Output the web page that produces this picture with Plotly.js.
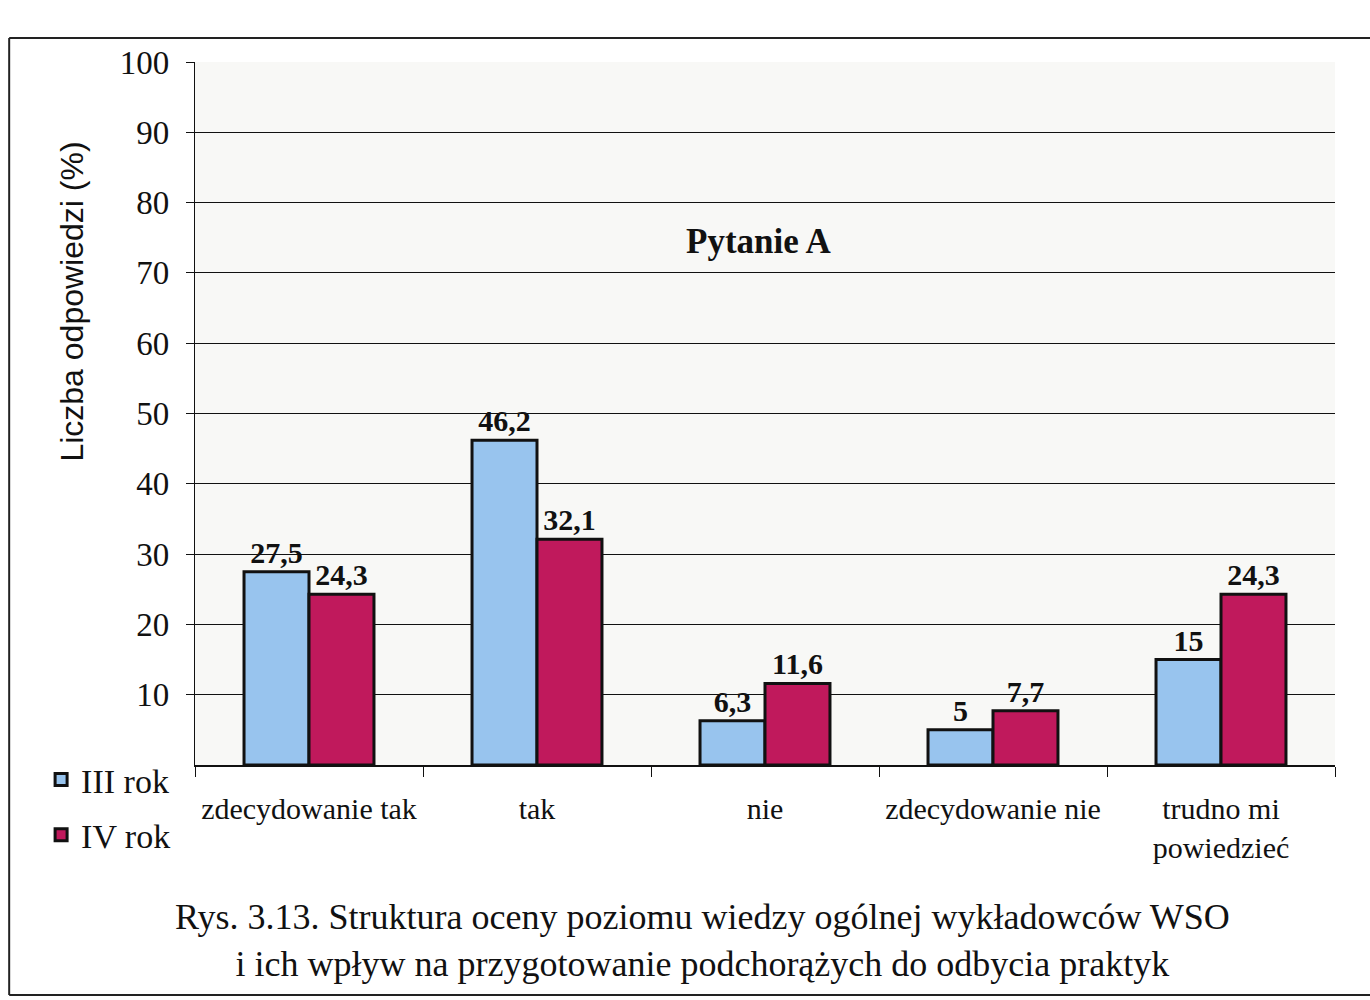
<!DOCTYPE html>
<html>
<head>
<meta charset="utf-8">
<script src="https://cdn.plot.ly/plotly-3.0.1.min.js"></script>
<style>
  body { margin: 0; background: #fff; }
  #chart { width: 1370px; height: 1000px; }
</style>
</head>
<body>
<div id="chart"></div>
<script>
// Pytanie A - ocena wiedzy ogolnej wykladowcow
const categories = ['zdecydowanie tak', 'tak', 'nie', 'zdecydowanie nie', 'trudno mi<br>powiedzieć'];
const rok3 = [27.5, 46.2, 6.3, 5, 15];
const rok4 = [24.3, 32.1, 11.6, 7.7, 24.3];
const seriesNames = ['III rok', 'IV rok'];
const yTicks = [10, 20, 30, 40, 50, 60, 70, 80, 90, 100];

const serif = 'Liberation Serif, Times New Roman, serif';

// comma as decimal mark, like in the original
function plLabel(v) {
    return String(v).replace('.', ',');
}

function barTrace(values, name, color, group) {
    return {
        x: categories,
        y: values,
        type: 'bar',
        name: name,
        legendgroup: group,
        text: values.map(plLabel),
        textposition: 'outside',
        cliponaxis: false,
        textfont: { family: serif, size: 30, color: '#111', weight: 'bold' },
        marker: {
            color: color,
            line: { color: '#111', width: 3 }
        },
        hoverinfo: 'x+y'
    };
}

const traces = [
    barTrace(rok3, seriesNames[0], '#98c4ee', 'g1'),
    barTrace(rok4, seriesNames[1], '#c0195c', 'g2')
];

const layout = {
    width: 1370,
    height: 1000,
    paper_bgcolor: '#ffffff',
    plot_bgcolor: '#f8f8f6',
    font: { family: serif, color: '#111', size: 26 },
    margin: { l: 195, r: 35, t: 62, b: 235 },
    barmode: 'group',
    bargap: 0.43,
    bargroupgap: 0,
    showlegend: true,
    legend: {
        x: -0.135,
        xanchor: 'left',
        y: 0.02,
        yanchor: 'top',
        traceorder: 'grouped',
        tracegroupgap: 8,
        itemwidth: 30,
        font: { family: serif, size: 34, color: '#111' },
        bgcolor: 'rgba(0,0,0,0)'
    },
    xaxis: {
        type: 'category',
        showgrid: false,
        showline: true,
        linecolor: '#111',
        linewidth: 1.5,
        ticks: 'outside',
        tickson: 'boundaries',
        ticklen: 10,
        tickcolor: '#111',
        ticklabelstandoff: 16,
        tickfont: { family: serif, size: 30, color: '#111' }
    },
    yaxis: {
        range: [0, 100],
        tickvals: yTicks,
        showgrid: true,
        gridcolor: '#111',
        gridwidth: 1.2,
        showline: true,
        linecolor: '#111',
        linewidth: 1.2,
        ticks: 'outside',
        ticklen: 8,
        tickcolor: '#111',
        ticklabelstandoff: 10,
        tickfont: { family: serif, size: 33, color: '#111' },
        zeroline: false
    },
    annotations: [
        {
            text: 'Liczba odpowiedzi (%)',
            xref: 'paper', yref: 'paper',
            x: -0.108, y: 0.659,
            xanchor: 'center', yanchor: 'middle',
            textangle: -90,
            showarrow: false,
            font: { family: 'Liberation Sans, Arial, sans-serif', size: 32, color: '#111' }
        },
        {
            text: '<b>Pytanie A</b>',
            xref: 'paper', yref: 'paper',
            x: 0.495, y: 0.775,
            showarrow: false,
            font: { family: serif, size: 35, color: '#111' }
        },
        {
            text: 'Rys. 3.13. Struktura oceny poziomu wiedzy ogólnej wykładowców WSO<br>i ich wpływ na przygotowanie podchorążych do odbycia praktyk',
            xref: 'paper', yref: 'paper',
            x: 0.445, y: -0.185,
            xanchor: 'center', yanchor: 'top',
            showarrow: false,
            align: 'center',
            font: { family: serif, size: 36, color: '#111' }
        }
    ],
    shapes: [
        // frame of the scanned page
        { type: 'line', xref: 'paper', yref: 'paper', x0: -0.163, x1: 1.04, y0: 1.034, y1: 1.034, line: { color: '#222', width: 2 } },
        { type: 'line', xref: 'paper', yref: 'paper', x0: -0.163, x1: -0.163, y0: 1.034, y1: -0.327, line: { color: '#222', width: 2 } },
        { type: 'line', xref: 'paper', yref: 'paper', x0: -0.163, x1: 1.04, y0: -0.327, y1: -0.327, line: { color: '#222', width: 2 } }
    ]
};

Plotly.newPlot('chart', traces, layout, { displayModeBar: false, responsive: false });
</script>
</body>
</html>
